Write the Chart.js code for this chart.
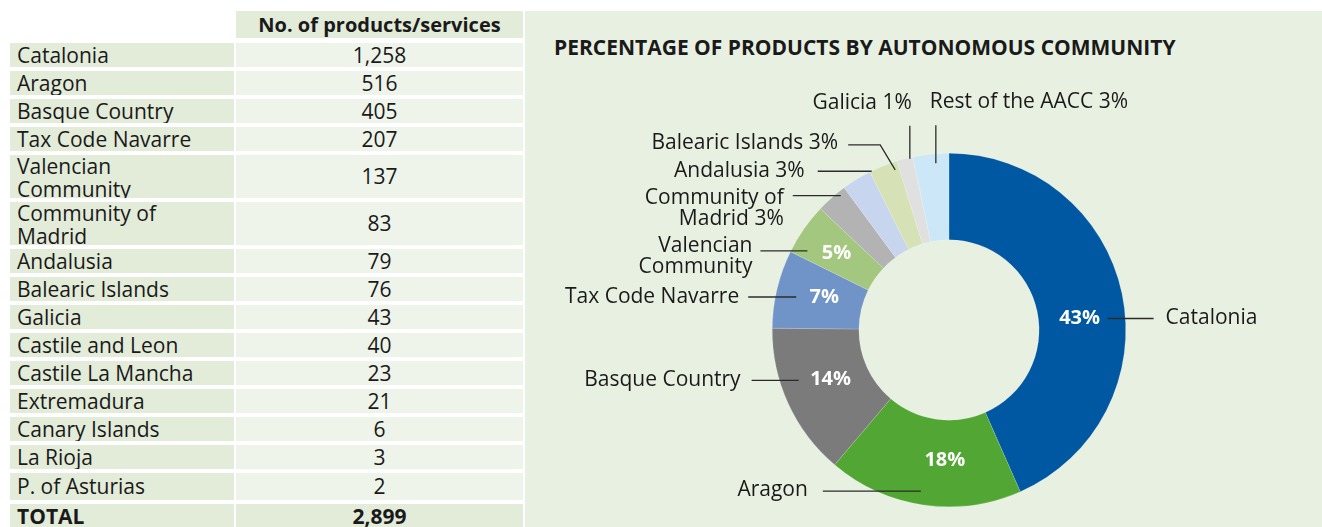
<!DOCTYPE html>
<html>
<head>
<meta charset="utf-8">
<script src="https://cdn.jsdelivr.net/npm/chart.js@4.4.0/dist/chart.umd.min.js"></script>
<style>
    html, body { margin: 0; padding: 0; background: #fff; }
    body {
        width: 1322px; height: 527px; position: relative; overflow: hidden;
        font-family: 'Open Sans', sans-serif; color: #1a1a1a;
    }
    #table {
        position: absolute; left: 10px; top: 11px; width: 513px;
        display: grid; grid-template-columns: 224px 287px; column-gap: 2px; row-gap: 4px;
    }
    #table div { font-size: 21px; line-height: 23px; display: flex; align-items: center; overflow: hidden; height: 24px; }
    #table .head { background: #e3ebd9; font-weight: 700; font-size: 20px; justify-content: center; height: 27px; margin-bottom: 1px; }
    #table .blank { background: transparent; height: 27px; }
    #table .name { background: #e3ebd9; padding-left: 7px; }
    #table .val { background: #eef4ea; justify-content: center; }
    #table .two { height: 43px; align-items: flex-start; padding-top: 0; box-sizing: border-box; }
    #table .val.two { align-items: center; }
    #table .tall { height: 27px; }
    #table .total { background: #e3ebd9; font-weight: 700; }
    #panel {
        position: absolute; left: 525px; top: 11px; width: 797px; height: 516px;
        background: #e8f1e1;
    }
    #panel h2 {
        position: absolute; left: 29px; top: 22px; margin: 0;
        font-size: 21px; font-weight: 700; white-space: nowrap;
    }
    #chart-box { position: absolute; left: 0; top: 0; width: 797px; height: 516px; }
</style>
</head>
<body>
<div id="table"></div>
<div id="panel">
    <h2>PERCENTAGE OF PRODUCTS BY AUTONOMOUS COMMUNITY</h2>
    <div id="chart-box"><canvas id="donut"></canvas></div>
</div>
<script>
// 표 데이터
const regions = ['Catalonia', 'Aragon', 'Basque Country', 'Tax Code Navarre', 'Valencian Community',
    'Community of Madrid', 'Andalusia', 'Balearic Islands', 'Galicia', 'Castile and Leon',
    'Castile La Mancha', 'Extremadura', 'Canary Islands', 'La Rioja', 'P. of Asturias'];
const products = [1258, 516, 405, 207, 137, 83, 79, 76, 43, 40, 23, 21, 6, 3, 2];
const tableHeader = 'No. of products/services';

// 도넛 데이터
const chartLabels = ['Catalonia', 'Aragon', 'Basque Country', 'Tax Code Navarre', 'Valencian Community',
    'Community of Madrid', 'Andalusia', 'Balearic Islands', 'Galicia', 'Rest of the AACC'];
const chartValues = [1258, 516, 405, 207, 137, 83, 79, 76, 43, 95];
const sliceColors = ['#0058a3', '#52a633', '#7b7b7b', '#7093c8', '#a3c77e',
    '#b3b3b3', '#c8d5ee', '#d6e2b5', '#e0e0e0', '#cce8f8'];

// 줄바꿈 (표 / 도넛 라벨)
const tableBreaks = { 'Valencian Community': ['Valencian', 'Community'], 'Community of Madrid': ['Community of', 'Madrid'] };
const calloutLines = {
    'Valencian Community': ['Valencian', 'Community'],
    'Community of Madrid': ['Community of', 'Madrid {p}']
};

// 라벨 배치 (inside: 퍼센트를 링 안에 표시)
const calloutLayout = [
    { inside: true, nudge: [0, 16], path: [[28, 0], [74, 0]], text: [86, 0], align: 'left' },
    { inside: true, nudge: [15, -2], path: [[-24, 31], [-122, 31]], text: [-137, 30], align: 'right' },
    { inside: true, nudge: [3, -6], path: [[-32, 1], [-79, 1]], text: [-90, 1], align: 'right' },
    { inside: true, nudge: [5, -2], path: [[-28, 0], [-76, 0]], text: [-85, 0], align: 'right' },
    { inside: true, nudge: [-3, -1], path: [[-29, -2], [-76, -2]], text: [-84, -7], align: 'right' },
    { inside: false, nudge: [9, -2], path: [[0, 0], [-48, 0]], text: [-57, 2], align: 'right' },
    { inside: false, nudge: [15, -8], path: [[0, 0], [-54, 0]], text: [-67, 0], align: 'right' },
    { inside: false, nudge: [12, 4], path: [[0, 0], [-15, -25], [-47, -25]], text: [-57, -27], align: 'right' },
    { inside: false, nudge: [5, 0], path: [[0, 0], [0, -33]], text: [2, -56], align: 'right' },
    { inside: false, nudge: [5, 9], path: [[0, 0], [0, -38]], text: [-6, -61], align: 'left' }
];

function renderTable() {
    const box = document.getElementById('table');
    const add = (cls, html) => {
        const d = document.createElement('div');
        d.className = cls;
        d.innerHTML = html;
        box.appendChild(d);
    };
    add('blank', '');
    add('head', tableHeader);
    regions.forEach((name, i) => {
        const lines = tableBreaks[name];
        let extra = '';
        if (lines) extra = ' two';
        else if (i === regions.length - 1) extra = ' tall';
        add('name' + extra, lines ? lines.join('<br>') : name);
        add('val' + extra, products[i].toLocaleString('en-US'));
    });
    const total = products.reduce((a, b) => a + b, 0);
    add('name total', 'TOTAL');
    add('val total', total.toLocaleString('en-US'));
}

const calloutPlugin = {
    id: 'callouts',
    afterDatasetsDraw(chart) {
        const ctx = chart.ctx;
        const meta = chart.getDatasetMeta(0);
        const total = chartValues.reduce((a, b) => a + b, 0);
        ctx.save();
        meta.data.forEach((arc, i) => {
            const lay = calloutLayout[i];
            const pct = Math.round(chartValues[i] / total * 100) + '%';
            const p = arc.getProps(['x', 'y', 'startAngle', 'endAngle', 'outerRadius'], true);
            let ox, oy;
            if (lay.inside) {
                const tp = arc.tooltipPosition(true);
                ox = tp.x + lay.nudge[0];
                oy = tp.y + lay.nudge[1];
                ctx.fillStyle = '#ffffff';
                ctx.font = '700 20px "Open Sans"';
                ctx.textAlign = 'center';
                ctx.textBaseline = 'middle';
                ctx.fillText(pct, ox, oy);
            } else {
                const mid = (p.startAngle + p.endAngle) / 2;
                ox = p.x + Math.cos(mid) * p.outerRadius + lay.nudge[0];
                oy = p.y + Math.sin(mid) * p.outerRadius + lay.nudge[1];
            }
            // 지시선
            ctx.strokeStyle = '#2b2b2b';
            ctx.lineWidth = 1.3;
            ctx.beginPath();
            lay.path.forEach(([dx, dy], k) => {
                if (k === 0) ctx.moveTo(ox + dx, oy + dy);
                else ctx.lineTo(ox + dx, oy + dy);
            });
            ctx.stroke();
            // 라벨
            const name = chartLabels[i];
            let lines = calloutLines[name] ? calloutLines[name].slice() : [lay.inside ? name : name + ' {p}'];
            lines = lines.map(s => s.replace('{p}', pct));
            ctx.fillStyle = '#1a1a1a';
            ctx.font = '400 21px "Open Sans"';
            ctx.textAlign = lay.align;
            ctx.textBaseline = 'middle';
            lines.forEach((s, k) => ctx.fillText(s, ox + lay.text[0], oy + lay.text[1] + k * 21));
        });
        ctx.restore();
    }
};

function initChart() {
    new Chart(document.getElementById('donut'), {
        type: 'doughnut',
        data: {
            labels: chartLabels,
            datasets: [{
                data: chartValues,
                backgroundColor: sliceColors,
                borderColor: 'rgba(255, 255, 255, 0.3)',
                borderWidth: 0.5,
                hoverOffset: 0
            }]
        },
        options: {
            responsive: true,
            maintainAspectRatio: false,
            animation: false,
            devicePixelRatio: 1,
            cutout: '51%',
            layout: { padding: { left: 247, right: 196, top: 142, bottom: 20 } },
            plugins: { legend: { display: false }, tooltip: { enabled: false } }
        },
        plugins: [calloutPlugin]
    });
}

renderTable();
initChart();
</script>
</body>
</html>
